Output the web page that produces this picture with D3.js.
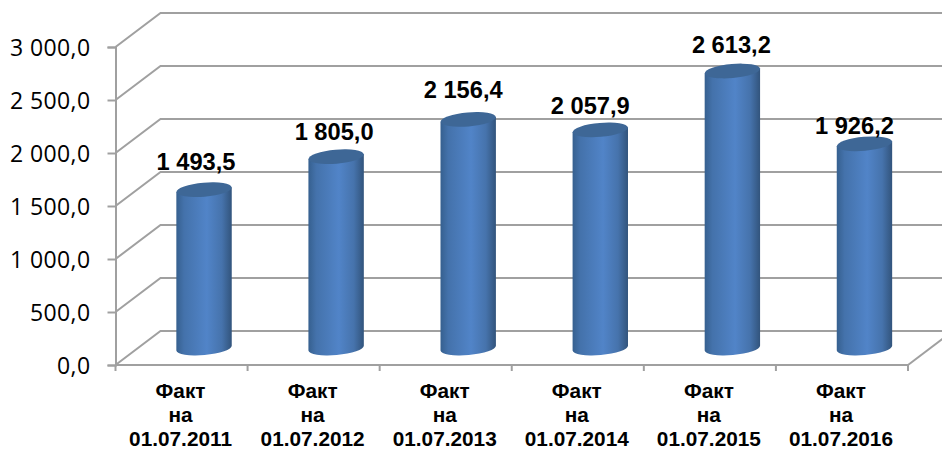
<!DOCTYPE html>
<html>
<head>
<meta charset="utf-8">
<script src="https://cdn.jsdelivr.net/npm/d3@7"></script>
<style>
    html, body { margin: 0; padding: 0; background: #fff; }
    svg { display: block; }
</style>
</head>
<body>
<div id="chart"></div>
<script>
const categories = ['01.07.2011', '01.07.2012', '01.07.2013', '01.07.2014', '01.07.2015', '01.07.2016'];
const values = [1493.5, 1805.0, 2156.4, 2057.9, 2613.2, 1926.2];
const yTicks = [0, 500, 1000, 1500, 2000, 2500, 3000];

const width = 942;
const height = 450;
const plot = {left: 115.5, right: 908, top: 47, bottom: 365};
const depth = {x: 45, y: -34};
const gridColor = '#a0a0a0';

// labels were placed by hand in the original, so they sit a bit off the bars
const labelNudge = [[-8, -20], [-2, -17], [-5, -21], [-10, -16], [-1, -18], [-10, -10]];

const locale = d3.formatLocale({decimal: ',', thousands: ' ', grouping: [3], currency: ['', '']});
const fmt = locale.format(',.1f');

const svg = d3.select('#chart').append('svg')
    .attr('width', width)
    .attr('height', height);

const xScale = d3.scaleBand().domain(categories).range([plot.left, plot.right]);
const yScale = d3.scaleLinear().domain([0, 3000]).range([plot.bottom, plot.top]);

const defs = svg.append('defs');
const grad = defs.append('linearGradient').attr('id', 'body');
grad.append('stop').attr('offset', '0%').attr('stop-color', '#36608f');
grad.append('stop').attr('offset', '14%').attr('stop-color', '#4472ab');
grad.append('stop').attr('offset', '55%').attr('stop-color', '#5184c8');
grad.append('stop').attr('offset', '82%').attr('stop-color', '#4673ac');
grad.append('stop').attr('offset', '100%').attr('stop-color', '#32547c');

// side wall gridlines and back wall
svg.append('g').selectAll('path')
    .data(yTicks)
    .enter().append('path')
    .attr('fill', 'none')
    .attr('stroke', gridColor)
    .attr('stroke-width', 2)
    .attr('d', d => {
        const y = yScale(d);
        return `M${plot.left},${y}L${plot.left + depth.x},${y + depth.y}L${width},${y + depth.y}`;
    });

// right edge of the floor
svg.append('path')
    .attr('fill', 'none')
    .attr('stroke', gridColor)
    .attr('stroke-width', 2)
    .attr('d', `M${plot.right},${plot.bottom}L${plot.right + depth.x},${plot.bottom + depth.y}`);

// y axis
const yAxis = svg.append('g')
    .attr('transform', `translate(${plot.left},0)`)
    .call(d3.axisLeft(yScale).tickValues(yTicks).tickSize(8).tickPadding(17).tickFormat(fmt));
yAxis.selectAll('path, line').attr('stroke', gridColor).attr('stroke-width', 2);
yAxis.selectAll('text')
    .attr('fill', '#000')
    .attr('y', 1.5)
    .style('font-family', '"Open Sans", sans-serif')
    .style('font-size', '23px')
    .style('letter-spacing', '0.4px');

// x axis, ticks between categories
const xAxis = svg.append('g').attr('transform', `translate(0,${plot.bottom})`);
xAxis.append('line')
    .attr('x1', plot.left).attr('x2', plot.right)
    .attr('stroke', gridColor).attr('stroke-width', 2);
xAxis.selectAll('.tick')
    .data(categories.concat(null))
    .enter().append('line')
    .attr('class', 'tick')
    .attr('x1', d => d === null ? plot.right : xScale(d))
    .attr('x2', d => d === null ? plot.right : xScale(d))
    .attr('y1', 0)
    .attr('y2', 6)
    .attr('stroke', gridColor)
    .attr('stroke-width', 2);

// cylinders
const rx = 27.7, ry = 7, tilt = -5;
const rise = rx * Math.sin(-tilt * Math.PI / 180);
const barX = d => xScale(d) + xScale.bandwidth() / 2 + depth.x / 2;

const bars = svg.append('g').selectAll('g')
    .data(categories.map((c, i) => ({cat: c, value: values[i]})))
    .enter().append('g');

bars.append('path')
    .attr('fill', 'url(#body)')
    .attr('d', d => {
        const cx = barX(d.cat);
        const yTop = yScale(d.value) + depth.y / 2;
        const yBase = yScale(0) + depth.y / 2;
        return `M${cx - rx},${yTop + rise}L${cx - rx},${yBase + rise}` +
            `A${rx},${ry} ${tilt} 0 0 ${cx + rx},${yBase - rise}` +
            `L${cx + rx},${yTop - rise}Z`;
    });

bars.append('ellipse')
    .attr('rx', rx)
    .attr('ry', ry)
    .attr('fill', '#3e6796')
    .attr('transform', d => `translate(${barX(d.cat)},${yScale(d.value) + depth.y / 2}) rotate(${tilt})`);

// value labels, the picture is stretched a little so text is too
svg.append('g').selectAll('text')
    .data(values)
    .enter().append('text')
    .attr('text-anchor', 'middle')
    .attr('transform', (d, i) => {
        const x = barX(categories[i]) + labelNudge[i][0];
        const y = yScale(d) + depth.y / 2 + labelNudge[i][1];
        return `translate(${x},${y}) scale(1.03,1)`;
    })
    .style('font-family', '"Liberation Sans", Arial, sans-serif')
    .style('font-size', '23px')
    .style('font-weight', 'bold')
    .text(d => fmt(d));

// category labels
const catLabels = svg.append('g').selectAll('g')
    .data(categories)
    .enter().append('g')
    .attr('transform', d => `translate(${xScale(d) + xScale.bandwidth() / 2 - 1},0) scale(1.04,1)`);

[['Факт', 398], ['на', 422]].forEach(([txt, y]) => {
    catLabels.append('text')
        .attr('y', y)
        .attr('text-anchor', 'middle')
        .style('font-family', '"Liberation Sans", Arial, sans-serif')
        .style('font-size', '20px')
        .style('font-weight', 'bold')
        .text(txt);
});
catLabels.append('text')
    .attr('y', 446)
    .attr('text-anchor', 'middle')
    .style('font-family', '"Liberation Sans", Arial, sans-serif')
    .style('font-size', '20px')
    .style('font-weight', 'bold')
    .text(d => d);
</script>
</body>
</html>
